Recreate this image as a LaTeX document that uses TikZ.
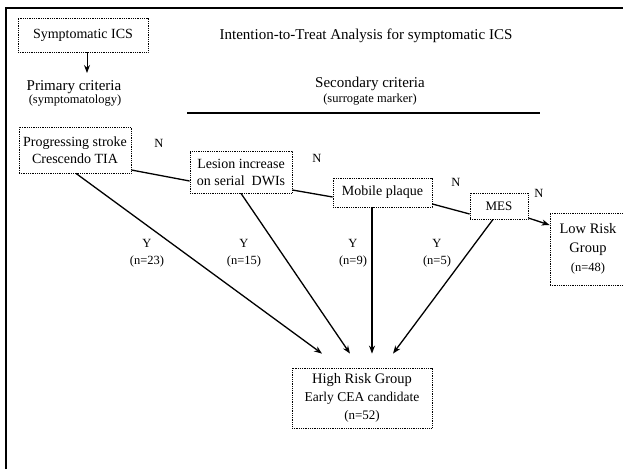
\documentclass[tikz,border=0pt]{standalone}
\usepackage{fontspec}
\setmainfont{Liberation Serif}
\usetikzlibrary{arrows.meta,calc}
\begin{document}
\begin{tikzpicture}[x=1pt,y=-1pt,
  box/.style={draw, densely dotted, line width=0.8pt, inner sep=0pt, align=center,
    font=\fontsize{14}{17}\selectfont},
  conn/.style={line width=1.3pt},
  arr/.style={line width=1.3pt, -{Stealth[length=8pt,width=6pt]}},
  lbl/.style={inner sep=0pt, align=center, font=\fontsize{14}{17}\selectfont},
  small/.style={inner sep=0pt, align=center, font=\fontsize{12.5}{17}\selectfont}]
\useasboundingbox (0,0) rectangle (623,469);
\fill[white] (0,0) rectangle (623,469);
% frame
\draw[line width=1.5pt] (6,469) -- (6,8) -- (623,8);
% nodes
\node[box, minimum width=130pt, minimum height=34pt] (sym) at (83,35) {Symptomatic ICS};
\node[lbl, font=\fontsize{15}{17}\selectfont] (title) at (366,36) {Intention-to-Treat Analysis for symptomatic ICS};
\node[lbl, font=\fontsize{15}{17}\selectfont] (prim) at (74,87) {Primary criteria};
\node[small] (primsub) at (75,101) {(symptomatology)};
\node[lbl, font=\fontsize{15}{17}\selectfont] (sec) at (370,84) {Secondary criteria};
\node[small] (secsub) at (370,100) {(surrogate marker)};
\coordinate (rulel) at (187,113);
\coordinate (ruler) at (540,113);
\draw[line width=1.2pt] (rulel) -- (ruler);
\coordinate (symend) at (87,73);
\draw[arr, line width=1pt] (sym.south -| symend) -- (symend);

\node[box, minimum width=112pt, minimum height=46pt] (prog) at (75,150) {Progressing stroke\\Crescendo TIA};
\node[box, minimum width=102pt, minimum height=42pt] (lesion) at (241,172) {Lesion increase\\on serial\ \ DWIs};
\node[box, minimum width=99pt, minimum height=29pt] (mobile) at (382.5,192.5) {Mobile plaque};
\node[box, minimum width=58pt, minimum height=26pt, font=\fontsize{13}{17}\selectfont] (mes) at (499,206) {MES};
\node[box, minimum width=76pt, minimum height=72pt, font=\fontsize{14.5}{19}\selectfont] (low) at (588,249) {Low Risk\\Group\\{\fontsize{12.5}{16}\selectfont(n=48)}};
\node[box, minimum width=140pt, minimum height=60pt, font=\fontsize{14.5}{18}\selectfont] (high) at (362,398) {High Risk Group\\{\fontsize{13.5}{18}\selectfont Early CEA candidate}\\{\fontsize{13}{17}\selectfont(n=52)}};

% N chain
\draw[conn] ([yshift=-20pt]prog.east) -- ([yshift=-9pt]lesion.west);
\draw[conn] ([yshift=-18pt]lesion.east) -- ([yshift=-4.5pt]mobile.west);
\draw[conn] ([yshift=-11.5pt]mobile.east) -- ([yshift=-8pt]mes.west);
\draw[arr] ([yshift=-12pt]mes.east) -- ([yshift=24pt]low.west);

% Y arrows
\draw[arr] ([xshift=1pt]prog.south) -- ([xshift=-40pt,yshift=14pt]high.north);
\draw[arr] (lesion.south) -- ([xshift=-12pt,yshift=14pt]high.north);
\draw[arr] ([xshift=-10.5pt]mobile.south) -- ([xshift=10pt,yshift=14pt]high.north);
\draw[arr] ([xshift=-6pt]mes.south) -- ([xshift=31pt,yshift=14pt]high.north);

% labels
\node[small] (n1) at (159,143) {N};
\node[small] (n2) at (317,158) {N};
\node[small] (n3) at (456,182) {N};
\node[small] (n4) at (539,193) {N};
\node[small] (y1) at (147,253) {Y\\(n=23)};
\node[small] (y2) at (244,253) {Y\\(n=15)};
\node[small] (y3) at (353,253) {Y\\(n=9)};
\node[small] (y4) at (437,253) {Y\\(n=5)};
\end{tikzpicture}
\end{document}
